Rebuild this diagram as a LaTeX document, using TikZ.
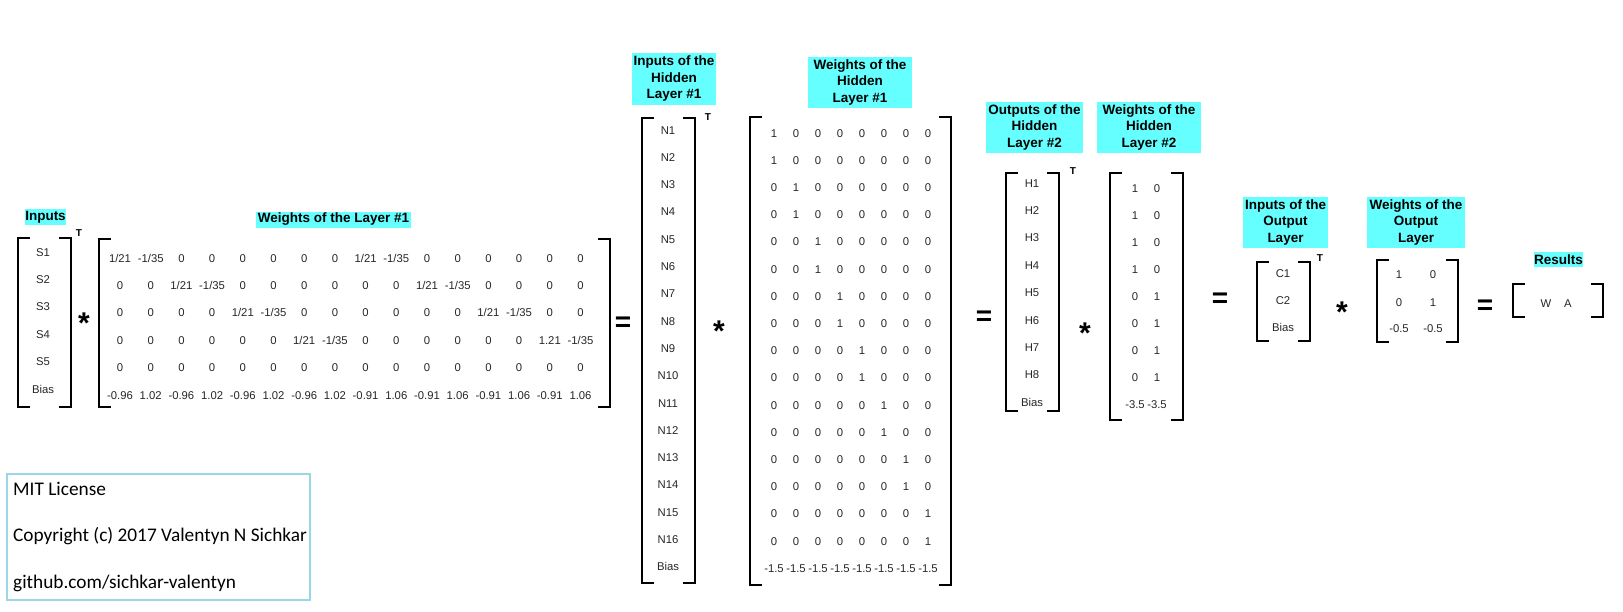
\documentclass[tikz,border=0pt]{standalone}
\usepackage{fontspec}
\setmainfont{Liberation Sans}
\newfontfamily\calib{Carlito}
\definecolor{labcyan}{RGB}{102,255,255}
\definecolor{licblue}{RGB}{153,214,230}
\tikzset{
  ent/.style={font=\fontsize{11.3}{13}\selectfont, inner sep=0pt, text height=8pt, text depth=0pt, text=black!85},
  lab/.style={fill=labcyan, font=\bfseries\fontsize{13.5}{16.5}\selectfont, align=center, inner sep=0pt},
  brk/.style={line width=2pt},
  tsup/.style={font=\bfseries\fontsize{10}{12}\selectfont, inner sep=0pt},
  opstar/.style={font=\bfseries\fontsize{30}{32}\selectfont, inner sep=0pt, anchor=base},
  opeq/.style={font=\bfseries\fontsize{28}{30}\selectfont, inner sep=0pt, anchor=base},
  lic/.style={font=\calib\fontsize{19.3}{22}\selectfont, inner sep=0pt, anchor=base west},
}
\newcommand\mybrackets[4]{%
  \draw[brk] (#1+12,#3) -- (#1,#3) -- (#1,#4) -- (#1+12,#4);
  \draw[brk] (#2-12,#3) -- (#2,#3) -- (#2,#4) -- (#2-12,#4);
}
\begin{document}
\begin{tikzpicture}[x=1pt,y=-1pt]
\useasboundingbox (0,0) rectangle (1623,611);

% ---------- labels ----------
\node[lab, minimum width=41, minimum height=16] (lInputs) at (45.5,217) {Inputs};
\node[lab, minimum width=155, minimum height=16] (lW1) at (333.5,219.5) {Weights of the Layer \#1};
\node[lab, minimum width=84, minimum height=52] (lN) at (674,79) {Inputs of the\\Hidden\\Layer \#1};
\node[lab, minimum width=104, minimum height=51] (lWH1) at (860,82.5) {Weights of the\\Hidden\\Layer \#1};
\node[lab, minimum width=97, minimum height=51] (lH) at (1034.5,127.5) {Outputs of the\\Hidden\\Layer \#2};
\node[lab, minimum width=104, minimum height=51] (lWH2) at (1149,127.5) {Weights of the\\Hidden\\Layer \#2};
\node[lab, minimum width=85, minimum height=51] (lC) at (1285.5,222.5) {Inputs of the\\Output\\Layer};
\node[lab, minimum width=98, minimum height=51] (lWO) at (1416,222.5) {Weights of the\\Output\\Layer};
\node[lab, minimum width=49, minimum height=15] (lRes) at (1558.5,259.5) {Results};

% ---------- inputs ----------
\mybrackets{18}{71}{238}{407}
\foreach \t [count=\i] in {S1,S2,S3,S4,S5,Bias}
  \node[ent] (s\i) at (43,{252+27.4*(\i-1)}) {\t};
\node[tsup] (t1) at (79,233) {T};
\node[opstar] (star1) at (84,333) {*};

% ---------- weights of layer 1 ----------
\mybrackets{99}{610}{239}{407}
\foreach \row [count=\r] in {
  {{1/21},{-1/35},0,0,0,0,0,0,{1/21},{-1/35},0,0,0,0,0,0},
  {0,0,{1/21},{-1/35},0,0,0,0,0,0,{1/21},{-1/35},0,0,0,0},
  {0,0,0,0,{1/21},{-1/35},0,0,0,0,0,0,{1/21},{-1/35},0,0},
  {0,0,0,0,0,0,{1/21},{-1/35},0,0,0,0,0,0,1.21,{-1/35}},
  {0,0,0,0,0,0,0,0,0,0,0,0,0,0,0,0},
  {-0.96,1.02,-0.96,1.02,-0.96,1.02,-0.96,1.02,-0.91,1.06,-0.91,1.06,-0.91,1.06,-0.91,1.06}}
  \foreach \v [count=\c] in \row
    \node[ent] (wa-\r-\c) at ({120+30.7*(\c-1)},{258+27.4*(\r-1)}) {\v};
\node[opeq] (eq1) at (623,331) {=};

% ---------- inputs of hidden layer 1 ----------
\mybrackets{642}{695}{118}{583}
\foreach \t [count=\i] in {N1,N2,N3,N4,N5,N6,N7,N8,N9,N10,N11,N12,N13,N14,N15,N16,Bias}
  \node[ent] (n\i) at (668,{130+27.3*(\i-1)}) {\t};
\node[tsup] (t2) at (708,117) {T};
\node[opstar] (star2) at (719,341) {*};

% ---------- weights of hidden layer 1 ----------
\mybrackets{750}{951}{117}{585}
\foreach \r in {1,...,16}
  \foreach \c in {1,...,8}{
    \pgfmathtruncatemacro\one{(\c==int((\r+1)/2))}
    \node[ent] (wb-\r-\c) at ({774+22*(\c-1)},{133+27.2*(\r-1)}) {\one};
  }
\foreach \c in {1,...,8}
  \node[ent] (wb-17-\c) at ({774+22*(\c-1)},{133+27.2*16}) {-1.5};
\node[opeq] (eq2) at (984,325) {=};

% ---------- outputs of hidden layer 2 ----------
\mybrackets{1006}{1059}{173}{411}
\foreach \t [count=\i] in {H1,H2,H3,H4,H5,H6,H7,H8,Bias}
  \node[ent] (h\i) at (1032,{183+27.4*(\i-1)}) {\t};
\node[tsup] (t3) at (1073,171) {T};
\node[opstar] (star3) at (1085,343) {*};

% ---------- weights of hidden layer 2 ----------
\mybrackets{1110}{1183}{173}{420}
\foreach \a/\b [count=\r] in {1/0,1/0,1/0,1/0,0/1,0/1,0/1,0/1,-3.5/-3.5}{
  \node[ent] (wc-\r-1) at (1135,{188+27.1*(\r-1)}) {\a};
  \node[ent] (wc-\r-2) at (1157,{188+27.1*(\r-1)}) {\b};
}
\node[opeq] (eq3) at (1220,307) {=};

% ---------- inputs of output layer ----------
\mybrackets{1257}{1310}{262}{341}
\node[ent] (c1) at (1283,273) {C1};
\node[ent] (c2) at (1283,300) {C2};
\node[ent] (c3) at (1283,327) {Bias};
\node[tsup] (t4) at (1320,258) {T};
\node[opstar] (star4) at (1342,322) {*};

% ---------- weights of output layer ----------
\mybrackets{1377}{1458}{260}{342}
\node[ent] (wd-1-1) at (1399,274) {1};
\node[ent] (wd-1-2) at (1433,274) {0};
\node[ent] (wd-2-1) at (1399,302) {0};
\node[ent] (wd-2-2) at (1433,302) {1};
\node[ent] (wd-3-1) at (1399,328) {-0.5};
\node[ent] (wd-3-2) at (1433,328) {-0.5};
\node[opeq] (eq4) at (1485,314) {=};

% ---------- results ----------
\mybrackets{1513}{1603}{284}{317}
\node[ent] (rw) at (1546,303) {W};
\node[ent] (ra) at (1568,303) {A};

% ---------- license ----------
\draw[licblue, line width=2pt] (7,474) rectangle (310,600);
\node[lic] (lic1) at (13,495) {MIT License};
\node[lic] (lic2) at (13,541.5) {Copyright (c) 2017 Valentyn N Sichkar};
\node[lic] (lic3) at (13,588) {github.com/sichkar-valentyn};
\end{tikzpicture}
\end{document}
